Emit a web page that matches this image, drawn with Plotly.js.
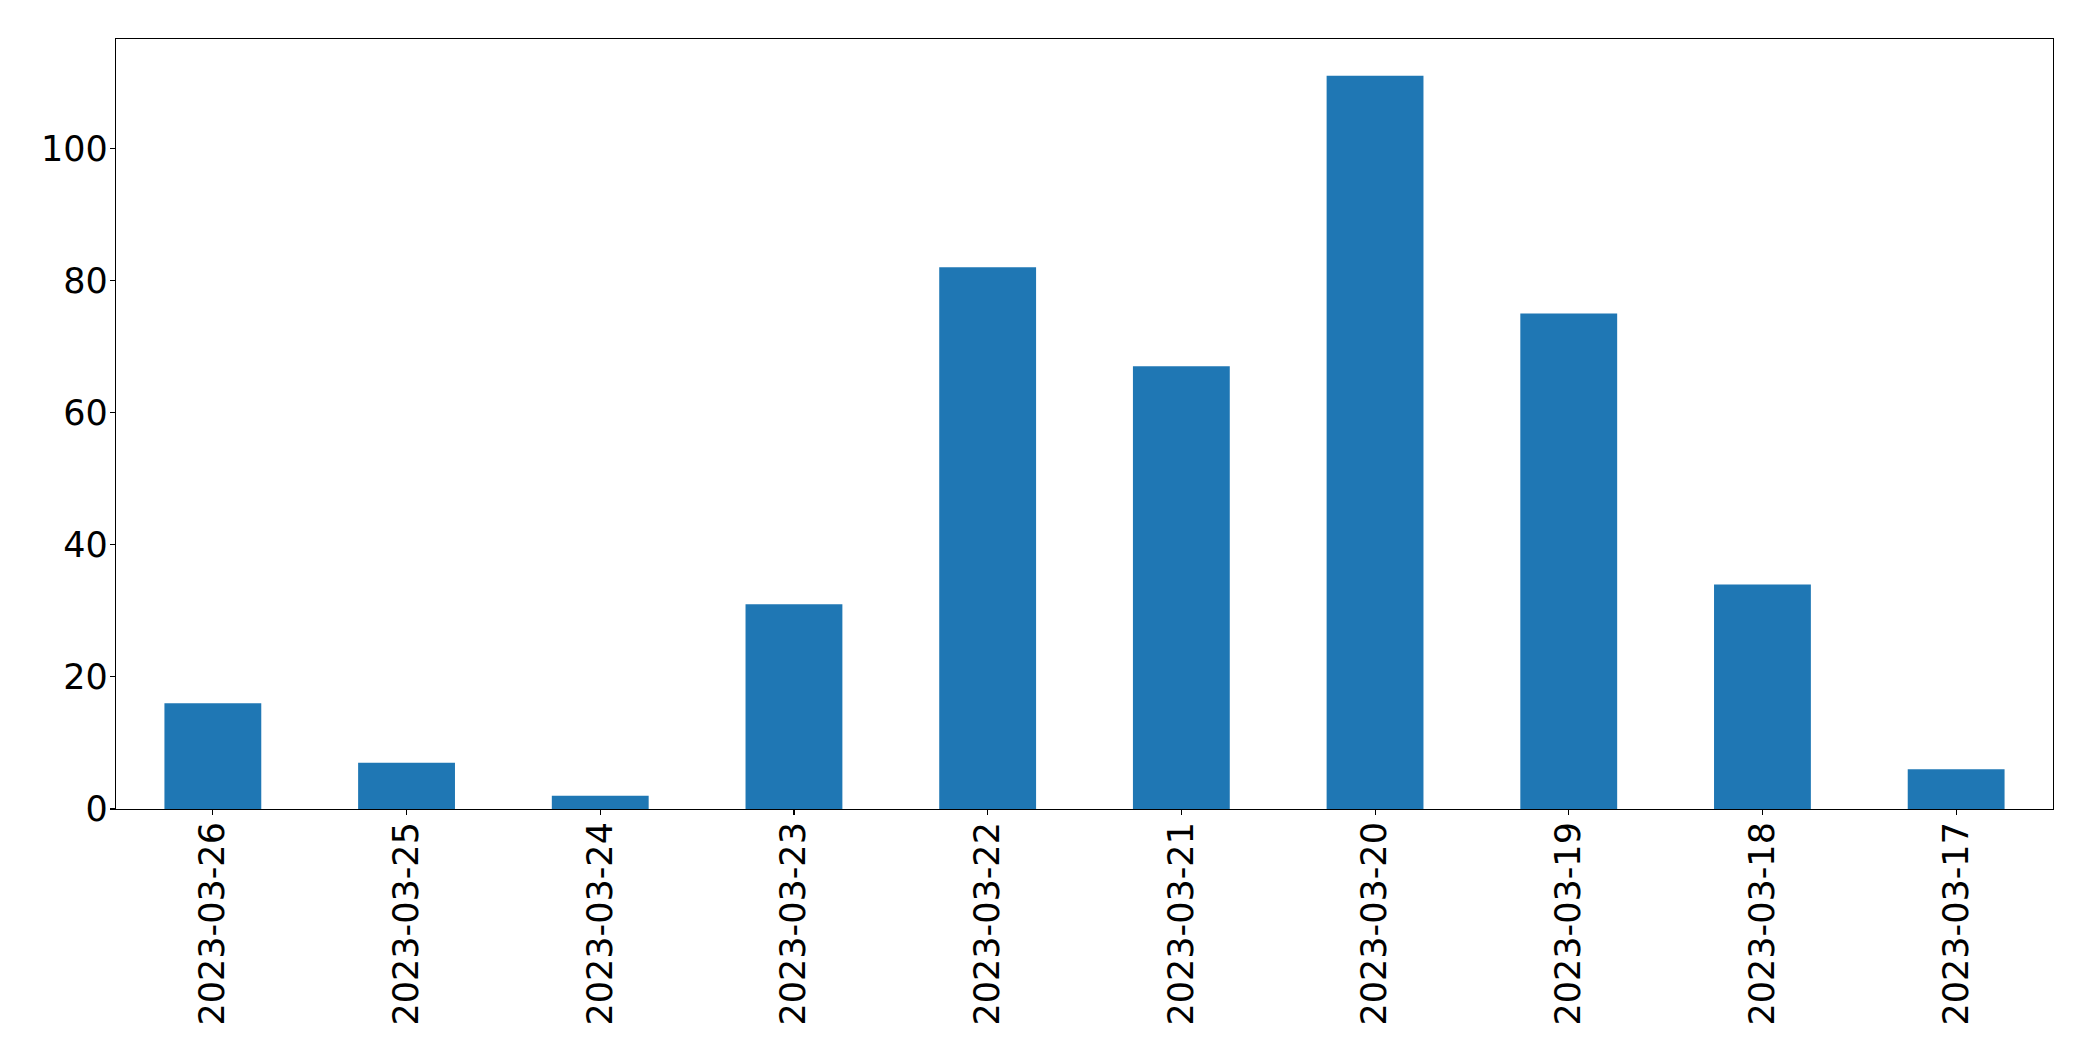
<!DOCTYPE html>
<html>
<head>
<meta charset="utf-8">
<script src="https://cdn.plot.ly/plotly-3.0.1.min.js"></script>
<style>html,body{margin:0;padding:0;background:#fff;}#chart{width:2093px;height:1061px;}</style>
</head>
<body>
<div id="chart"></div>
<script>
const dates = ["2023-03-26","2023-03-25","2023-03-24","2023-03-23","2023-03-22","2023-03-21","2023-03-20","2023-03-19","2023-03-18","2023-03-17"];
const counts = [16, 7, 2, 31, 82, 67, 111, 75, 34, 6];
const yTicks = [0, 20, 40, 60, 80, 100];

const font = {family: "DejaVu Sans", size: 35, color: "#000"};
const data = [{
  type: "bar",
  x: dates,
  y: counts,
  width: 0.5,
  marker: {color: "#1f77b4", line: {width: 0}},
  hoverinfo: "x+y"
}];
const layout = {
  width: 2093, height: 1061,
  margin: {l: 116, r: 40, t: 39, b: 252},
  paper_bgcolor: "#fff", plot_bgcolor: "#fff",
  showlegend: false,
  font: font,
  xaxis: {
    type: "category",
    range: [-0.5, 9.5],
    tickangle: -90,
    showline: true, mirror: true, linecolor: "#000", linewidth: 1.1,
    ticks: "outside", ticklen: 5, tickwidth: 1.1, tickcolor: "#000",
    showgrid: false, zeroline: false,
    tickfont: font,
    ticklabelstandoff: -7
  },
  yaxis: {
    range: [0, 116.55],
    tickvals: yTicks,
    ticktext: yTicks.map(String),
    showline: true, mirror: true, linecolor: "#000", linewidth: 1.1,
    ticks: "outside", ticklen: 5, tickwidth: 1.1, tickcolor: "#000",
    showgrid: false, zeroline: false,
    tickfont: font,
    ticklabelstandoff: -5
  }
};
Plotly.newPlot("chart", data, layout, {staticPlot: true, displayModeBar: false});
</script>
</body>
</html>
